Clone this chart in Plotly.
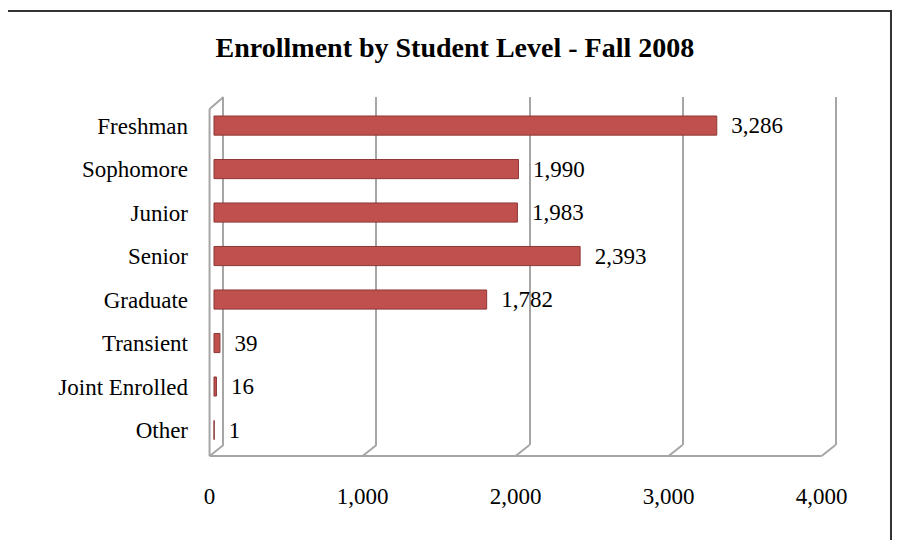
import plotly.graph_objects as go

# data
levels = ["Freshman", "Sophomore", "Junior", "Senior", "Graduate",
          "Transient", "Joint Enrolled", "Other"]
enrollment = [3286, 1990, 1983, 2393, 1782, 39, 16, 1]
x_ticks = [0, 1000, 2000, 3000, 4000]

font_family = "Liberation Serif, Times New Roman, serif"
grid_col = "#A6A6A6"

# 3D box: front (floor labels), middle (bars), back wall (gridlines)
front0, bar0, back0 = 69, 98, 160      # units from plot left edge
span = 4222
dx = back0 - front0
dy = 11 / 359

fig = go.Figure()

# invisible copy so the back-wall subplot gets drawn
fig.add_trace(go.Bar(x=enrollment, y=levels, orientation="h",
                     xaxis="x", yaxis="y", opacity=0,
                     hoverinfo="skip", showlegend=False))

fig.add_trace(go.Bar(
    x=enrollment, y=levels, orientation="h",
    xaxis="x2", yaxis="y2",
    width=0.44,
    marker=dict(color="#C0504D", line=dict(color="#8C3836", width=1)),
    text=["\u00a0\u00a0" + f"{v:,}" for v in enrollment],
    textposition="outside",
    constraintext="none",
    textfont=dict(family=font_family, size=23, color="black"),
    outsidetextfont=dict(family=font_family, size=23, color="black"),
    cliponaxis=False,
    showlegend=False,
))

line = dict(color=grid_col, width=2)
shapes = []
# floor front line
shapes.append(dict(type="line", xref="x3", yref="paper",
                   x0=x_ticks[0], x1=x_ticks[-1], y0=0, y1=0, line=line))
# floor slants at each gridline
for t in x_ticks:
    shapes.append(dict(type="line", xref="x3", yref="paper",
                       x0=t, x1=t + dx, y0=0, y1=dy, line=line))
# left wall front edge and top slant
wall_top = (456 - 109) / 359
shapes.append(dict(type="line", xref="x3", yref="paper",
                   x0=0, x1=0, y0=0, y1=wall_top, line=line))
shapes.append(dict(type="line", xref="x3", yref="paper",
                   x0=0, x1=dx, y0=wall_top, y1=1, line=line))
# outer frame
shapes.append(dict(type="rect", xref="paper", yref="paper",
                   x0=-0.3003, x1=1.0712, y0=-0.3, y1=1.2396,
                   line=dict(color="#333333", width=2)))

hidden = dict(showgrid=False, showticklabels=False, zeroline=False,
              showline=False, ticks="")

fig.update_layout(
    width=892, height=532,
    margin=dict(l=191, r=55, t=89, b=84),
    paper_bgcolor="white", plot_bgcolor="rgba(0,0,0,0)",
    font=dict(family=font_family, size=23, color="black"),
    title=dict(text="<b>Enrollment by Student Level - Fall 2008</b>",
               x=0.501, xref="container", xanchor="center",
               y=1 - 39 / 532, yanchor="middle",
               font=dict(family=font_family, size=28, color="black")),
    shapes=shapes,
    # back wall gridlines
    xaxis=dict(domain=[0, 1], anchor="y", range=[-back0, span - back0],
               tickvals=x_ticks, showgrid=True, gridcolor=grid_col, gridwidth=2,
               showticklabels=False, zeroline=False, showline=False, ticks=""),
    yaxis=dict(domain=[dy, 1], anchor="x", autorange="reversed", **hidden),
    # bars
    xaxis2=dict(domain=[0, 1], anchor="y2", range=[-bar0, span - bar0], **hidden),
    yaxis2=dict(domain=[0.0118, 0.981], anchor="x2", autorange="reversed",
                showgrid=False, zeroline=False, showline=False, ticks="",
                ticklabelstandoff=10,
                tickfont=dict(family=font_family, size=23, color="black")),
    # floor tick labels
    xaxis3=dict(domain=[0, 1], anchor="y3", range=[-front0, span - front0],
                tickvals=x_ticks, tickformat=",", showgrid=False,
                zeroline=False, showline=False, ticks="",
                ticklabelstandoff=24,
                tickfont=dict(family=font_family, size=23, color="black")),
    yaxis3=dict(domain=[0, 1], anchor="x3", range=[0, 1], **hidden),
)

fig.write_html("out.html")
